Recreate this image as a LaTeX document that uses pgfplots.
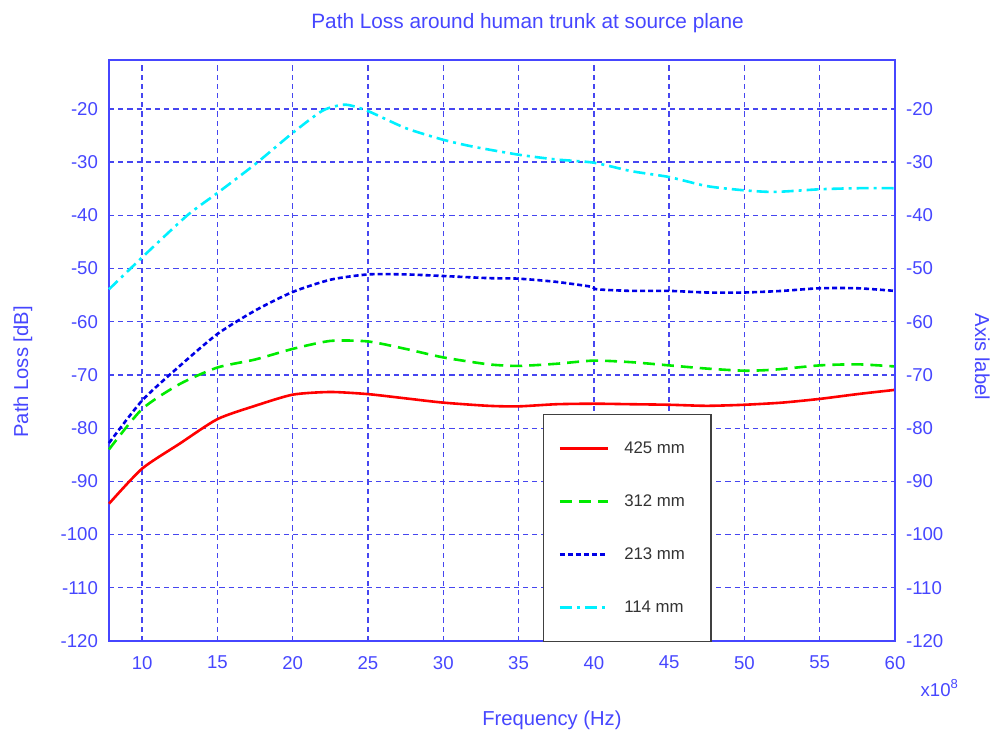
\documentclass[border=0pt]{standalone}
\usepackage{fontspec}
\setmainfont{Liberation Sans}
\usepackage{pgfplots}
\pgfplotsset{compat=1.18}
\definecolor{axblue}{RGB}{70,70,255}
\definecolor{gridblue}{RGB}{70,70,240}
\definecolor{cred}{RGB}{255,0,0}
\definecolor{cgreen}{RGB}{0,235,0}
\definecolor{cblue}{RGB}{0,0,230}
\definecolor{ccyan}{RGB}{0,240,255}
\begin{document}
\begin{tikzpicture}
\pgfplotsset{
  common/.style={
    at={(0,0)}, anchor=south west, scale only axis,
    width=393pt, height=290.5pt,
    xmin=7.8, xmax=60, ymin=-120, ymax=-10.8,
    xtick={10,15,...,60}, ytick={-120,-110,...,-20},
    axis line style={axblue, line width=0.9pt},
    tick style={draw=none},
    major tick length=0pt,
    ticklabel style={font=\fontsize{9.3}{11}\selectfont, text=axblue},
    /pgf/number format/assume math mode=true,
  }
}
\begin{axis}[common,
  clip=false,
  grid=major,
  grid style={gridblue, line width=0.65pt, dash pattern=on 2.6pt off 2pt},
  xticklabel style={yshift=-4pt},
  yticklabel style={xshift=-2pt},
  xlabel={Frequency (Hz)},
  xlabel style={font=\fontsize{10.1}{12}\selectfont, text=axblue, at={(rel axis cs:0.5636,-0.1366)}, anchor=center},
  ylabel={Path Loss [dB]},
  ylabel style={font=\fontsize{10.1}{12}\selectfont, text=axblue, at={(rel axis cs:-0.1094,0.463)}, anchor=center, rotate=0},
  legend cell align=left,
  legend image code/.code={\draw[#1] (0pt,0pt) -- (24pt,0pt);},
  legend style={at={(rel axis cs:0.552,-0.002)}, anchor=south west,
    draw=black!75, line width=0.8pt, fill=white,
    inner xsep=7.5pt, inner ysep=13.5pt,
    row sep=19.5pt, column sep=7.5pt,
    nodes={inner sep=0pt, text height=6pt, text depth=1pt},
    font=\fontsize{8.4}{10}\selectfont, text=black!80},
]
\addplot[cred, line width=1.3pt, solid, smooth, tension=0.4] coordinates {
(7.8,-94.2) (10,-87.6) (12.5,-82.9) (15,-78.3) (17.5,-75.8) (20,-73.7) (22.5,-73.2) (25,-73.6) (27.5,-74.4) (30,-75.2) (33,-75.8) (35,-75.9) (37.5,-75.5) (40,-75.4) (42.5,-75.5) (45,-75.6) (47.5,-75.8) (50,-75.6) (52.5,-75.2) (55,-74.5) (57.5,-73.6) (60,-72.8)
};
\addlegendentry{425 mm\rule{5.5pt}{0pt}}
\addplot[cgreen, line width=1.3pt, dash pattern=on 6pt off 3.5pt, smooth, tension=0.4] coordinates {
(7.8,-84.0) (10,-76.4) (12.5,-71.7) (15,-68.6) (17.5,-67.1) (20,-65.1) (22.5,-63.6) (25,-63.7) (27.5,-65.1) (30,-66.7) (33,-68.0) (35,-68.3) (37.5,-67.9) (40,-67.3) (42.5,-67.6) (45,-68.2) (47.5,-68.8) (50,-69.2) (52,-69.0) (55,-68.2) (57.5,-68.0) (60,-68.4)
};
\addlegendentry{312 mm}
\addplot[cblue, line width=1.3pt, dash pattern=on 2.5pt off 1.5pt, smooth, tension=0.4] coordinates {
(7.8,-82.8) (10,-74.8) (12.5,-68.3) (15,-62.3) (17.5,-57.9) (20,-54.4) (22.5,-52.1) (25,-51.1) (27.5,-51.1) (30,-51.4) (33,-51.8) (35,-51.9) (37.5,-52.5) (39.8,-53.4) (40.2,-53.9) (42.5,-54.2) (45,-54.2) (47.5,-54.5) (50,-54.5) (52.5,-54.2) (55,-53.7) (57.5,-53.7) (60,-54.2)
};
\addlegendentry{213 mm}
\addplot[ccyan, line width=1.3pt, dash pattern=on 6pt off 2.5pt on 1.5pt off 2.5pt, smooth, tension=0.4] coordinates {
(7.8,-53.9) (10,-47.9) (13,-40.0) (15,-35.8) (17.5,-30.4) (20,-24.5) (22,-20.3) (23.5,-19.2) (25,-20.4) (27.5,-23.6) (30,-25.8) (32,-27.1) (35,-28.6) (37.5,-29.5) (40,-30.1) (42.5,-31.7) (45,-32.8) (47.5,-34.5) (50,-35.3) (52,-35.6) (55,-35.1) (57.5,-34.9) (60,-34.9)
};
\addlegendentry{114 mm}
\node[font=\fontsize{10.4}{12}\selectfont, text=axblue] at (rel axis cs:0.5325,1.064) {Path Loss around human trunk at source plane};
\node[font=\fontsize{9.3}{11}\selectfont, text=axblue] at (rel axis cs:1.057,-0.081) {x10\textsuperscript{8}};
\end{axis}
\begin{axis}[common,
  axis x line=none,
  axis y line*=right,
  xticklabels={},
  yticklabel style={xshift=2pt},
  ylabel={Axis label},
  ylabel style={font=\fontsize{10.1}{12}\selectfont, text=axblue, at={(rel axis cs:1.111,0.489)}, anchor=center, rotate=180},
]
\end{axis}
\pgfresetboundingbox
\path[use as bounding box] (-54.5pt,-53pt) rectangle (445.5pt,320.5pt);
\end{tikzpicture}
\end{document}
